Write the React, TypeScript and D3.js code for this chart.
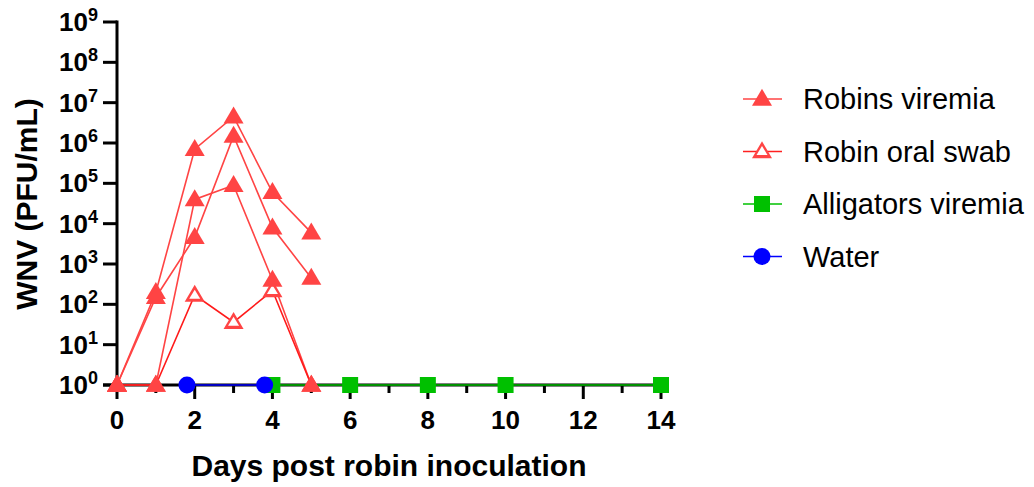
import * as React from "react";
import * as d3 from "d3";

// days and values (PFU/mL); 1 = below detection
const robinDays = [0, 1, 2, 3, 4, 5];
const robinA = [1, 200, 700000, 4500000, 60000, 6000];
const robinB = [1, 150, 4600, 1500000, 8000, 450];
const robinC = [1, 1, 40000, 90000, 400, 1];
const swabDays = [0, 1, 2, 3, 4, 5];
const swabValues = [1, 1, 170, 36, 220, 1];
const gatorDays = [4, 6, 8, 10, 14];
const gatorValues = [1, 1, 1, 1, 1];
const waterDays = [1.8, 3.8];
const waterValues = [1, 1];

const xTicks = [0, 2, 4, 6, 8, 10, 12, 14];
const xMinorTicks = [1, 3, 5, 7, 9, 11, 13];
const yExponents = [0, 1, 2, 3, 4, 5, 6, 7, 8, 9];

const legendItems = [
  { label: "Robins viremia", color: "#ff4444", line: "#ff4444", shape: "tri" },
  { label: "Robin oral swab", color: "#ff4444", line: "#ff2020", shape: "triOpen" },
  { label: "Alligators viremia", color: "#00c000", line: "#00c000", shape: "square" },
  { label: "Water", color: "#0000ff", line: "#0000ff", shape: "circle" },
];

const width = 1034;
const height = 487;
const font = "'Liberation Sans', Arial, Helvetica, sans-serif";

const Marker: React.FC<{ shape: string; x: number; y: number; color: string }> = ({
  shape,
  x,
  y,
  color,
}) => {
  if (shape === "tri" || shape === "triOpen") {
    const s = 20;
    const h = 17;
    const d = `M${x},${y - h * 0.6}L${x + s / 2},${y + h * 0.4}L${x - s / 2},${y + h * 0.4}Z`;
    if (shape === "tri") return <path d={d} fill={color} />;
    const s2 = 11;
    const h2 = 9;
    const d2 = `M${x},${y - h2 * 0.6}L${x + s2 / 2},${y + h2 * 0.4}L${x - s2 / 2},${y + h2 * 0.4}Z`;
    return (
      <g>
        <path d={d} fill={color} />
        <path d={d2} fill="#fff" />
      </g>
    );
  }
  if (shape === "square") return <rect x={x - 8} y={y - 8} width={16} height={16} fill={color} />;
  return <circle cx={x} cy={y} r={8.5} fill={color} />;
};

export default function App() {
  const x = d3.scaleLinear().domain([0, 14]).range([117, 661]);
  const y = d3.scaleLog().domain([1, 1e9]).range([385, 22]);

  const line = d3
    .line<[number, number]>()
    .x((d) => x(d[0]))
    .y((d) => y(d[1]));

  const pairs = (days: number[], vals: number[]) =>
    days.map((d, i) => [d, vals[i]] as [number, number]);

  const robins = [robinA, robinB, robinC].map((v) => pairs(robinDays, v));
  const swab = pairs(swabDays, swabValues);
  const gators = pairs(gatorDays, gatorValues);
  const water = pairs(waterDays, waterValues);

  return (
    <svg
      width={width}
      height={height}
      viewBox={`0 0 ${width} ${height}`}
      style={{ position: "absolute", left: 0, top: 0, background: "#fff" }}
      fontFamily={font}
    >
      {/* axes */}
      <g stroke="#000" strokeWidth={3}>
        <line x1={x(0)} x2={x(0)} y1={y(1e9) - 1.5} y2={y(1) + 1.5} />
        <line x1={x(0) - 14} x2={x(14) + 1.5} y1={y(1)} y2={y(1)} />
        {yExponents.map((e) => (
          <line key={e} x1={x(0) - 14} x2={x(0)} y1={y(10 ** e)} y2={y(10 ** e)} />
        ))}
        {xTicks.map((t) => (
          <line key={t} x1={x(t)} x2={x(t)} y1={y(1)} y2={y(1) + 14} />
        ))}
        {xMinorTicks.map((t) => (
          <line key={t} x1={x(t)} x2={x(t)} y1={y(1)} y2={y(1) + 8} />
        ))}
      </g>

      <g fontWeight="bold" fontSize={26} fill="#000">
        {xTicks.map((t) => (
          <text key={t} x={x(t)} y={y(1) + 44} textAnchor="middle">
            {t}
          </text>
        ))}
        {yExponents.map((e) => (
          <text key={e} x={98} y={y(10 ** e) + 9} textAnchor="end">
            10
            <tspan fontSize={18} dy={-10}>
              {e}
            </tspan>
          </text>
        ))}
      </g>

      <text
        x={389}
        y={476}
        textAnchor="middle"
        fontWeight="bold"
        fontSize={30}
      >
        Days post robin inoculation
      </text>
      <text
        transform={`translate(37,204) rotate(-90)`}
        textAnchor="middle"
        fontWeight="bold"
        fontSize={30}
      >
        WNV (PFU/mL)
      </text>

      {/* series */}
      <g fill="none" strokeWidth={1.6}>
        {robins.map((r, i) => (
          <path key={i} d={line(r) || ""} stroke="#ff4444" />
        ))}
        <path d={line(swab) || ""} stroke="#ff1a1a" />
        <path d={line(gators) || ""} stroke="#00c000" />
        <path d={line(water) || ""} stroke="#0000ff" />
      </g>
      {swab.map((p, j) => (
        <Marker key={j} shape="triOpen" x={x(p[0])} y={y(p[1])} color="#ff4444" />
      ))}
      {robins.map((r, i) => (
        <g key={i}>
          {r.map((p, j) => (
            <Marker key={j} shape="tri" x={x(p[0])} y={y(p[1])} color="#ff4444" />
          ))}
        </g>
      ))}
      {gators.map((p, j) => (
        <Marker key={j} shape="square" x={x(p[0])} y={y(p[1])} color="#00c000" />
      ))}
      {water.map((p, j) => (
        <Marker key={j} shape="circle" x={x(p[0])} y={y(p[1])} color="#0000ff" />
      ))}

      {/* legend */}
      {legendItems.map((item, i) => {
        const ly = 99 + i * 52.5;
        return (
          <g key={item.label}>
            <line x1={743} x2={782} y1={ly} y2={ly} stroke={item.line} strokeWidth={1.6} />
            <Marker shape={item.shape} x={762} y={ly} color={item.color} />
            <text x={803} y={ly + 10} fontSize={29} fill="#000">
              {item.label}
            </text>
          </g>
        );
      })}
    </svg>
  );
}
